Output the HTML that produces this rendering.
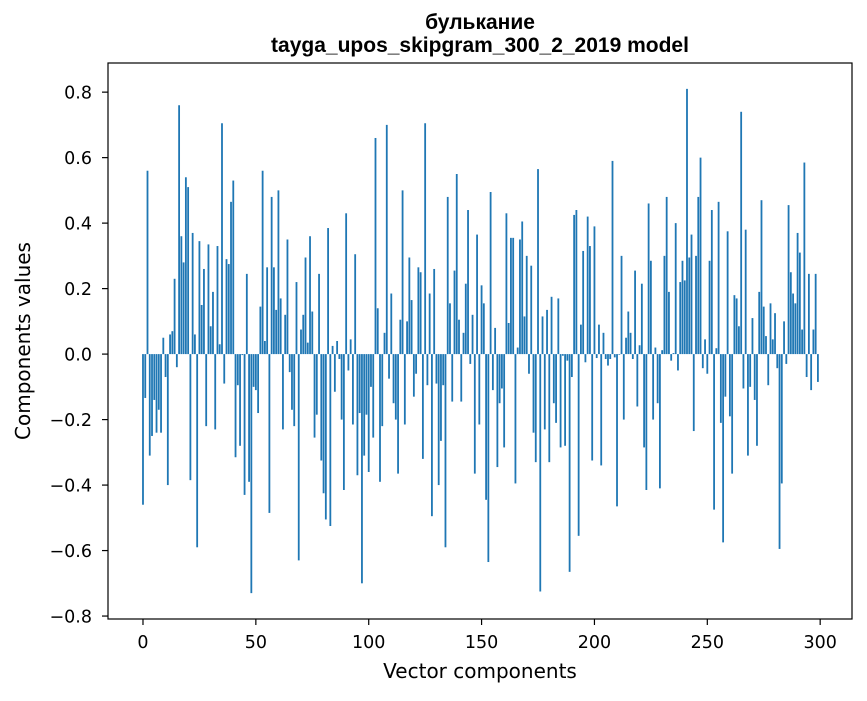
<!DOCTYPE html>
<html><head><meta charset="utf-8"><style>
body{margin:0;background:#fff;}
svg text{font-family:"DejaVu Sans","Liberation Sans",sans-serif;fill:#000;}
svg text.ttl{font-family:"Liberation Sans","DejaVu Sans",sans-serif;font-weight:bold;}
</style></head><body>
<svg id="chart" width="867" height="696" xmlns="http://www.w3.org/2000/svg">
<rect width="867" height="696" fill="#fff"/>
<text class="ttl" x="480" y="29" text-anchor="middle" font-size="21">булькание</text>
<text class="ttl" x="480" y="52" text-anchor="middle" font-size="21">tayga_upos_skipgram_300_2_2019 model</text>
<g id="bars"></g>
<g id="axes"></g>
<text x="480" y="678" text-anchor="middle" font-size="20">Vector components</text>
<text transform="translate(30,341) rotate(-90)" text-anchor="middle" font-size="20">Components values</text>
</svg>
<script>
const values = [
-0.46,-0.134,0.56,-0.31,-0.25,-0.14,-0.24,-0.17,-0.24,0.05,
-0.07,-0.40,0.06,0.07,0.23,-0.04,0.76,0.36,0.28,0.54,
0.51,-0.385,0.37,0.06,-0.59,0.345,0.15,0.26,-0.22,0.335,
0.085,0.19,-0.23,0.33,0.03,0.705,-0.09,0.29,0.275,0.465,
0.53,-0.315,-0.095,-0.28,-0.003,-0.43,0.245,-0.39,-0.73,-0.10,
-0.11,-0.18,0.145,0.56,0.04,0.265,-0.485,0.48,0.265,0.135,
0.50,0.17,-0.23,0.12,0.35,-0.055,-0.17,-0.22,0.22,-0.63,
0.075,0.12,0.295,0.035,0.36,0.13,-0.255,-0.185,0.245,-0.325,
-0.425,-0.505,0.385,-0.525,0.025,-0.115,0.04,-0.015,-0.2,-0.415,
0.43,-0.05,0.045,-0.215,0.305,-0.37,-0.18,-0.70,-0.31,-0.185,
-0.36,-0.10,-0.255,0.66,0.14,-0.39,-0.22,0.065,0.70,-0.075,
0.185,-0.15,-0.20,-0.365,0.105,0.50,-0.215,0.10,0.295,0.165,
-0.13,-0.06,0.265,0.25,-0.32,0.705,-0.095,0.185,-0.495,0.26,
-0.09,-0.40,-0.265,-0.095,-0.59,0.48,0.155,-0.145,0.255,0.55,
0.105,-0.145,0.065,0.215,0.44,-0.03,0.12,-0.365,0.365,-0.215,
0.21,0.155,-0.445,-0.635,0.495,-0.11,0.08,-0.345,-0.15,-0.105,
-0.285,0.43,0.095,0.355,0.355,-0.395,0.02,0.35,0.405,0.115,
0.30,-0.06,0.27,-0.24,-0.33,0.565,-0.725,0.115,-0.23,0.135,
-0.33,0.175,-0.15,-0.21,0.17,-0.285,-0.005,-0.28,-0.02,-0.665,
-0.07,0.425,0.44,-0.555,0.09,0.315,-0.025,0.42,0.33,-0.325,
0.39,-0.012,0.09,-0.34,0.065,-0.015,-0.035,-0.015,0.59,-0.01,
-0.465,-0.002,0.30,-0.20,0.05,0.13,0.065,-0.015,0.255,-0.16,
0.027,0.215,-0.285,-0.415,0.46,0.285,-0.20,0.02,-0.15,-0.41,
0.012,0.30,0.48,0.19,-0.02,0.003,0.40,-0.05,0.22,0.285,
0.225,0.81,0.295,0.365,-0.235,0.30,0.48,0.60,-0.043,0.045,
-0.06,0.285,0.44,-0.475,0.018,0.465,-0.21,-0.575,-0.13,0.375,
-0.19,-0.365,0.18,0.17,0.085,0.74,-0.105,0.38,-0.31,-0.10,
0.11,-0.14,-0.28,0.19,0.47,0.145,0.055,-0.095,0.155,0.045,
0.125,-0.043,-0.595,-0.395,0.10,-0.03,0.455,0.25,0.185,0.155,
0.37,0.31,0.075,0.585,-0.07,0.245,-0.11,0.075,0.245,-0.085
];
const xTicks = [0,50,100,150,200,250,300];
const yTicks = [-0.8,-0.6,-0.4,-0.2,0.0,0.2,0.4,0.6,0.8];
const yTickLabels = ["\u22120.8","\u22120.6","\u22120.4","\u22120.2","0.0","0.2","0.4","0.6","0.8"];

const NS="http://www.w3.org/2000/svg";
const L=108,R=852,T=63,B=619;
const xMin=-15.5,xMax=314.1,yMin=-0.809,yMax=0.889;
function xs(v){return L+(v-xMin)/(xMax-xMin)*(R-L);}
function ys(v){return T+(yMax-v)/(yMax-yMin)*(B-T);}
function mk(tag,attrs,parent){const e=document.createElementNS(NS,tag);for(const k in attrs)e.setAttribute(k,attrs[k]);parent.appendChild(e);return e;}

const bars=document.getElementById('bars');
const y0=ys(0);
values.forEach((v,i)=>{
  const x1=xs(i-0.4),x2=xs(i+0.4);
  const yv=ys(v);
  const r=mk('rect',{x:x1,y:Math.min(yv,y0),width:x2-x1,height:Math.abs(yv-y0),fill:'#1f77b4'},bars);
  
  
});

const axes=document.getElementById('axes');
const frame=mk('rect',{x:L,y:T,width:R-L,height:B-T,fill:'none',stroke:'#000','stroke-width':1.2},axes);


xTicks.forEach(t=>{
  const x=xs(t);
  const tk=mk('line',{x1:x,x2:x,y1:B,y2:B+6,stroke:'#000','stroke-width':1.2},axes);
  
  
  const tx=mk('text',{x:x,y:B+29,'text-anchor':'middle','font-size':17.5},axes);
  tx.textContent=t;
  
  
});
yTicks.forEach((t,i)=>{
  const y=ys(t);
  const tk=mk('line',{x1:L-6,x2:L,y1:y,y2:y,stroke:'#000','stroke-width':1.2},axes);
  
  
  const tx=mk('text',{x:L-16,y:y+6.5,'text-anchor':'end','font-size':17.5},axes);
  tx.textContent=yTickLabels[i];
  
  
});
</script>
</body></html>
